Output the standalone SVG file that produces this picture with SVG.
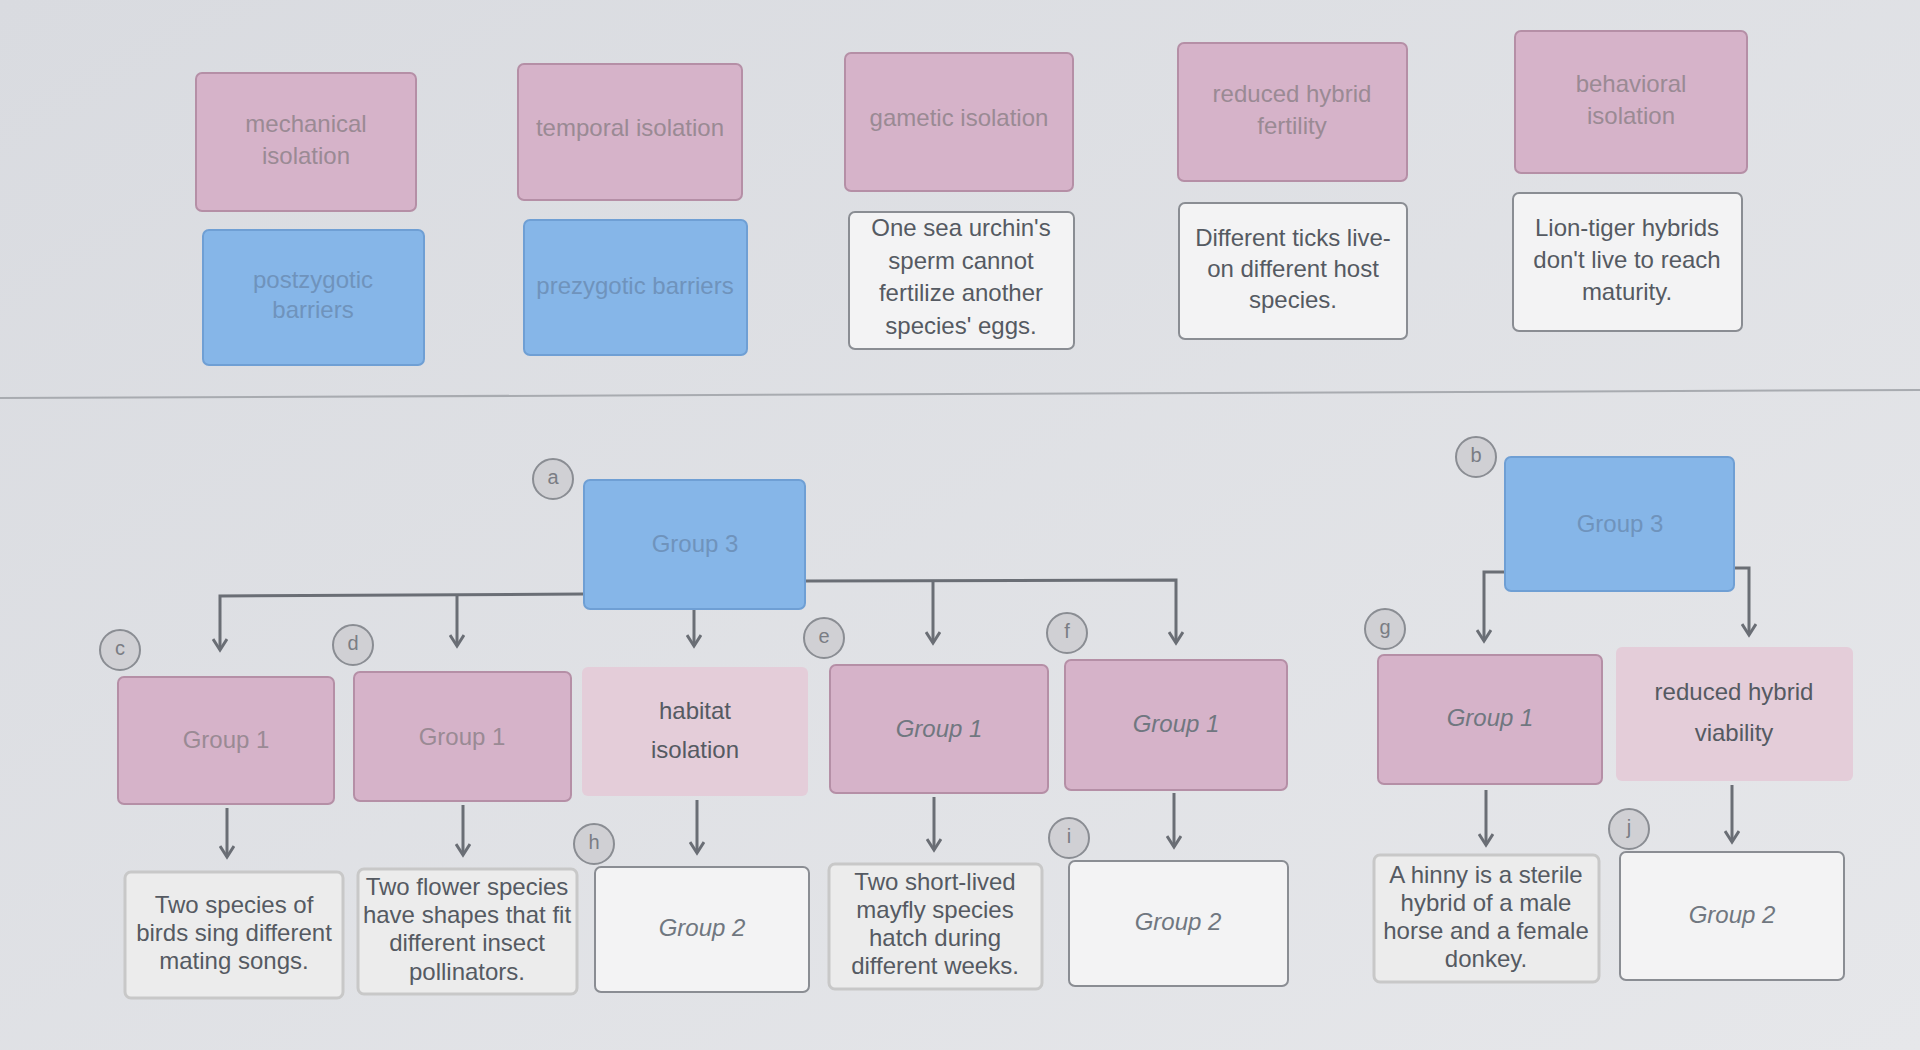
<svg xmlns="http://www.w3.org/2000/svg" width="1920" height="1050" viewBox="0 0 1920 1050">
<defs>
<linearGradient id="bg" x1="0" y1="0" x2="1" y2="1"><stop offset="0" stop-color="#d9dbe0"/><stop offset="1" stop-color="#e6e7ea"/></linearGradient>
<marker id="ah" markerWidth="16" markerHeight="16" refX="13" refY="8" orient="auto" markerUnits="userSpaceOnUse" viewBox="0 0 16 16"><path d="M2,1 L13,8 L2,15" fill="none" stroke="#6a6e75" stroke-width="3"/></marker>
</defs>
<style>
text{font-family:"Liberation Sans",Arial,sans-serif;font-size:24px;text-anchor:middle;dominant-baseline:middle}
.pk{fill:#d6b3c9;stroke:#b58fa6;stroke-width:2}
.pl{fill:#e4cdd9;stroke:none}
.bl{fill:#86b6e8;stroke:#6f9fd4;stroke-width:2}
.wh{fill:#f3f3f4;stroke:#8a8d93;stroke-width:2}
.gw{fill:#ececec;stroke:#c8c8c8;stroke-width:3}
.tf{fill:#9a8a94}
.tb{fill:#6f93bc}
.td{fill:#555a62}
.ti{fill:#707780;font-style:italic}
.c{fill:none;stroke:#6a6e75;stroke-width:3}
.bd circle{fill:#d0d0d4;stroke:#8a8d93;stroke-width:2}
.bd text{font-size:20px;fill:#7a7d84}
</style>
<rect width="1920" height="1050" fill="url(#bg)"/>
<line x1="0" y1="398" x2="1920" y2="390" stroke="#a8abb0" stroke-width="2"/>
<g id="top">
<g id="n1"><rect class="pk" x="196" y="73" width="220" height="138" rx="6"/><text class="tf" x="306" y="126">mechanical</text><text class="tf" x="306" y="158">isolation</text></g>
<g id="n2"><rect class="pk" x="518" y="64" width="224" height="136" rx="6"/><text class="tf" x="630" y="130">temporal isolation</text></g>
<g id="n3"><rect class="pk" x="845" y="53" width="228" height="138" rx="6"/><text class="tf" x="959" y="120">gametic isolation</text></g>
<g id="n4"><rect class="pk" x="1178" y="43" width="229" height="138" rx="6"/><text class="tf" x="1292" y="96">reduced hybrid</text><text class="tf" x="1292" y="128">fertility</text></g>
<g id="n5"><rect class="pk" x="1515" y="31" width="232" height="142" rx="6"/><text class="tf" x="1631" y="86">behavioral</text><text class="tf" x="1631" y="118">isolation</text></g>
<g id="n6"><rect class="bl" x="203" y="230" width="221" height="135" rx="6"/><text class="tb" x="313" y="282" font-size="20">postzygotic</text><text class="tb" x="313" y="312" font-size="20">barriers</text></g>
<g id="n7"><rect class="bl" x="524" y="220" width="223" height="135" rx="6"/><text class="tb" x="635" y="288" font-size="22">prezygotic barriers</text></g>
<g id="n8"><rect class="wh" x="849" y="212" width="225" height="137" rx="6"/><text class="td" x="961" y="230">One sea urchin's</text><text class="td" x="961" y="263">sperm cannot</text><text class="td" x="961" y="295">fertilize another</text><text class="td" x="961" y="328">species' eggs.</text></g>
<g id="n9"><rect class="wh" x="1179" y="203" width="228" height="136" rx="6"/><text class="td" x="1293" y="240">Different ticks live-</text><text class="td" x="1293" y="271">on different host</text><text class="td" x="1293" y="302">species.</text></g>
<g id="n10"><rect class="wh" x="1513" y="193" width="229" height="138" rx="6"/><text class="td" x="1627" y="230">Lion-tiger hybrids</text><text class="td" x="1627" y="262">don't live to reach</text><text class="td" x="1627" y="294">maturity.</text></g>
</g>
<g id="connectors">
<path class="c" d="M584,594 L220,596 L220,650" marker-end="url(#ah)"/>
<path class="c" d="M457,595 L457,646" marker-end="url(#ah)"/>
<path class="c" d="M694,609 L694,646" marker-end="url(#ah)"/>
<path class="c" d="M805,581 L1176,580 L1176,643" marker-end="url(#ah)"/>
<path class="c" d="M933,582 L933,643" marker-end="url(#ah)"/>
<path class="c" d="M227,808 L227,857" marker-end="url(#ah)"/>
<path class="c" d="M463,805 L463,855" marker-end="url(#ah)"/>
<path class="c" d="M697,800 L697,853" marker-end="url(#ah)"/>
<path class="c" d="M934,797 L934,850" marker-end="url(#ah)"/>
<path class="c" d="M1174,793 L1174,847" marker-end="url(#ah)"/>
<path class="c" d="M1504,572 L1484,572 L1484,641" marker-end="url(#ah)"/>
<path class="c" d="M1734,568 L1749,568 L1749,635" marker-end="url(#ah)"/>
<path class="c" d="M1486,790 L1486,845" marker-end="url(#ah)"/>
<path class="c" d="M1732,785 L1732,842" marker-end="url(#ah)"/>
</g>
<g id="bottom">
<g id="g3a"><rect class="bl" x="584" y="480" width="221" height="129" rx="6"/><text class="tb" x="695" y="546">Group 3</text></g>
<g id="m1"><rect class="pk" x="118" y="677" width="216" height="127" rx="6"/><text class="tf" x="226" y="742">Group 1</text></g>
<g id="m2"><rect class="pk" x="354" y="672" width="217" height="129" rx="6"/><text class="tf" x="462" y="739">Group 1</text></g>
<g id="m3"><rect class="pl" x="582" y="667" width="226" height="129" rx="6"/><text class="td" x="695" y="713" font-size="26">habitat</text><text class="td" x="695" y="752" font-size="26">isolation</text></g>
<g id="m4"><rect class="pk" x="830" y="665" width="218" height="128" rx="6"/><text class="ti" x="939" y="731">Group 1</text></g>
<g id="m5"><rect class="pk" x="1065" y="660" width="222" height="130" rx="6"/><text class="ti" x="1176" y="726">Group 1</text></g>
<g id="b1"><rect class="gw" x="125" y="872" width="218" height="126" rx="6"/><text class="td" x="234" y="907" font-size="21">Two species of</text><text class="td" x="234" y="935" font-size="21">birds sing different</text><text class="td" x="234" y="963" font-size="21">mating songs.</text></g>
<g id="b2"><rect class="gw" x="358" y="869" width="219" height="125" rx="6"/><text class="td" x="467" y="889" font-size="21">Two flower species</text><text class="td" x="467" y="917" font-size="21">have shapes that fit</text><text class="td" x="467" y="945" font-size="21">different insect</text><text class="td" x="467" y="974" font-size="21">pollinators.</text></g>
<g id="b3"><rect class="wh" x="595" y="867" width="214" height="125" rx="6"/><text class="ti" x="702" y="930">Group 2</text></g>
<g id="b4"><rect class="gw" x="829" y="864" width="213" height="125" rx="6"/><text class="td" x="935" y="884" font-size="22">Two short-lived</text><text class="td" x="935" y="912" font-size="22">mayfly species</text><text class="td" x="935" y="940" font-size="22">hatch during</text><text class="td" x="935" y="968" font-size="22">different weeks.</text></g>
<g id="b5"><rect class="wh" x="1069" y="861" width="219" height="125" rx="6"/><text class="ti" x="1178" y="924">Group 2</text></g>
<g id="g3b"><rect class="bl" x="1505" y="457" width="229" height="134" rx="6"/><text class="tb" x="1620" y="526">Group 3</text></g>
<g id="r1"><rect class="pk" x="1378" y="655" width="224" height="129" rx="6"/><text class="ti" x="1490" y="720">Group 1</text></g>
<g id="r2"><rect class="pl" x="1616" y="647" width="237" height="134" rx="6"/><text class="td" x="1734" y="694" font-size="26">reduced hybrid</text><text class="td" x="1734" y="735" font-size="26">viability</text></g>
<g id="r3"><rect class="gw" x="1374" y="855" width="225" height="127" rx="6"/><text class="td" x="1486" y="877" font-size="22">A hinny is a sterile</text><text class="td" x="1486" y="905" font-size="22">hybrid of a male</text><text class="td" x="1486" y="933" font-size="22">horse and a female</text><text class="td" x="1486" y="961" font-size="22">donkey.</text></g>
<g id="r4"><rect class="wh" x="1620" y="852" width="224" height="128" rx="6"/><text class="ti" x="1732" y="917">Group 2</text></g>
</g>
<g id="badges" class="bd">
<g><circle cx="553" cy="479" r="20"/><text x="553" y="479">a</text></g>
<g><circle cx="1476" cy="457" r="20"/><text x="1476" y="457">b</text></g>
<g><circle cx="120" cy="650" r="20"/><text x="120" y="650">c</text></g>
<g><circle cx="353" cy="645" r="20"/><text x="353" y="645">d</text></g>
<g><circle cx="824" cy="638" r="20"/><text x="824" y="638">e</text></g>
<g><circle cx="1067" cy="633" r="20"/><text x="1067" y="633">f</text></g>
<g><circle cx="1385" cy="629" r="20"/><text x="1385" y="629">g</text></g>
<g><circle cx="594" cy="844" r="20"/><text x="594" y="844">h</text></g>
<g><circle cx="1069" cy="838" r="20"/><text x="1069" y="838">i</text></g>
<g><circle cx="1629" cy="829" r="20"/><text x="1629" y="829">j</text></g>
</g>
</svg>
